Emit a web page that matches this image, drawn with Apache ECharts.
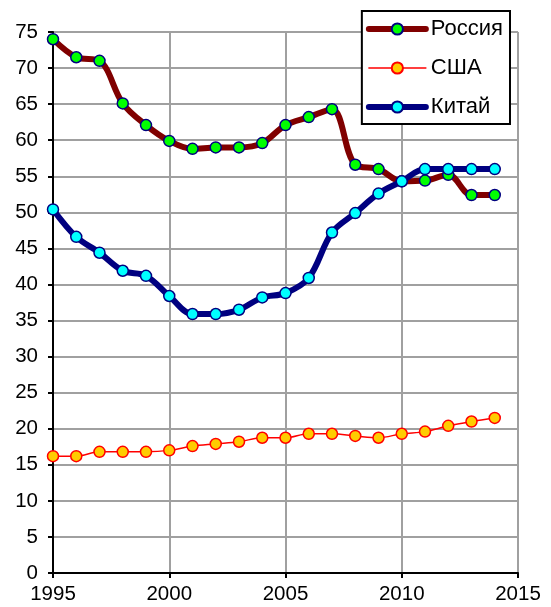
<!DOCTYPE html>
<html><head><meta charset="utf-8">
<script src="https://cdn.jsdelivr.net/npm/echarts@6/dist/echarts.min.js"></script>
<style>html,body{margin:0;padding:0;background:#fff}#c{width:551px;height:607px}</style>
</head><body><div id="c"></div>
<script>
const years = [1995,1996,1997,1998,1999,2000,2001,2002,2003,2004,2005,2006,2007,2008,2009,2010,2011,2012,2013,2014];
const russia = [74.0,71.5,71.0,65.1,62.1,59.9,58.8,59.0,59.0,59.6,62.1,63.2,64.3,56.6,56.0,54.3,54.4,55.2,52.4,52.4];
const usa = [16.2,16.2,16.8,16.8,16.8,17.0,17.6,17.9,18.2,18.75,18.75,19.3,19.3,19.0,18.75,19.3,19.6,20.4,21.0,21.5];
const china = [50.4,46.6,44.4,41.9,41.2,38.4,35.9,35.9,36.5,38.2,38.8,40.9,47.2,49.9,52.6,54.3,56.0,56.0,56.0,56.0];
const names = ['Россия','США','Китай'];

const pairs = arr => years.map((y,i)=>[y,arr[i]]);
const FONT = 'Liberation Sans, Arial, sans-serif';
const chart = echarts.init(document.getElementById('c'));
chart.setOption({
  animation:false,
  textStyle:{fontFamily:FONT},
  grid:{left:53,right:33,top:32,bottom:34,containLabel:false},
  legend:{
    data:names, orient:'vertical', right:41, top:11,
    backgroundColor:'#fff', borderColor:'#000', borderWidth:2,
    padding:[7,7,6,4], itemGap:17, itemWidth:57, itemHeight:14, itemTextGap:5,
    lineStyle:{width:'inherit',cap:'round'},
    textStyle:{fontSize:22,color:'#000',fontFamily:FONT}
  },
  xAxis:{type:'value',min:1995,max:2015,interval:5,
    axisLine:{show:true,lineStyle:{color:'#000',width:2}},
    axisTick:{show:true,length:5,lineStyle:{color:'#000',width:2}},
    axisLabel:{fontSize:20.5,color:'#000',margin:11,formatter:v=>String(v)},
    splitLine:{show:true,lineStyle:{color:'#a0a0a0',width:2}}},
  yAxis:{type:'value',min:0,max:75,interval:5,
    axisLine:{show:true,lineStyle:{color:'#000',width:2}},
    axisTick:{show:true,length:5,lineStyle:{color:'#000',width:2}},
    axisLabel:{fontSize:20.5,color:'#000',margin:15},
    splitLine:{show:true,lineStyle:{color:'#a0a0a0',width:2}}},
  series:[
    {name:names[0],type:'line',data:pairs(russia),smooth:0.35,symbol:'circle',symbolSize:11,
     lineStyle:{color:'#800000',width:6,cap:'round',join:'round'},itemStyle:{color:'#00ff00',borderColor:'#000080',borderWidth:1.5},z:3},
    {name:names[1],type:'line',data:pairs(usa),smooth:0.35,symbol:'circle',symbolSize:11,
     lineStyle:{color:'#ff0000',width:1.5},itemStyle:{color:'#ffcc00',borderColor:'#ff0000',borderWidth:1.5},z:2},
    {name:names[2],type:'line',data:pairs(china),smooth:0.35,symbol:'circle',symbolSize:11,
     lineStyle:{color:'#000080',width:6,cap:'round',join:'round'},itemStyle:{color:'#00ffff',borderColor:'#000080',borderWidth:1.5},z:4}
  ]
});
</script></body></html>
